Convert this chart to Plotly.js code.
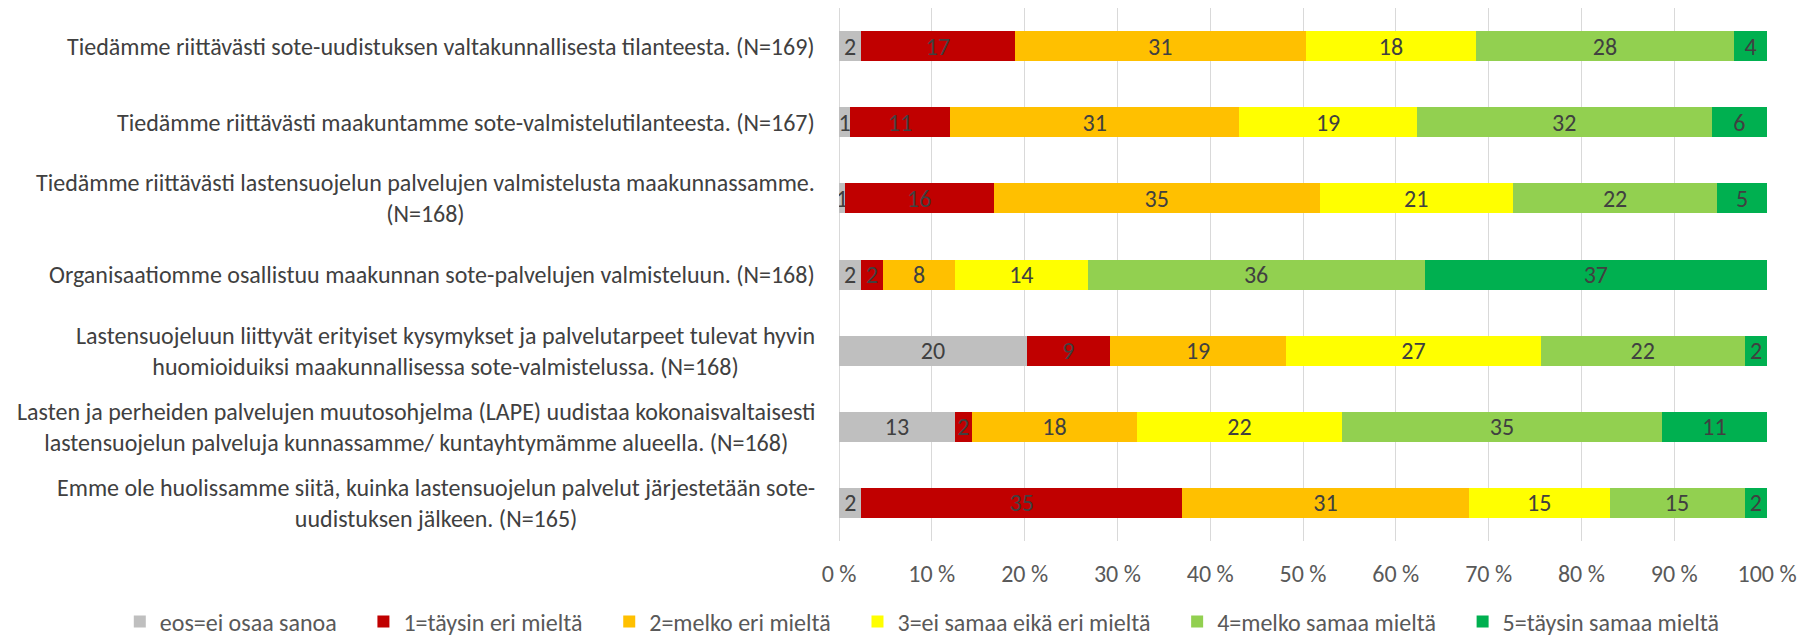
<!DOCTYPE html>
<html>
<head>
<meta charset="utf-8">
<script src="https://cdn.plot.ly/plotly-3.0.1.min.js"></script>
<style>html,body{margin:0;padding:0;background:#fff;}#chart{width:1810px;height:637px;}</style>
</head>
<body>
<div id="chart"></div>
<script>
// Categories (top to bottom)
var categories = [
  "Tiedämme riittävästi sote-uudistuksen valtakunnallisesta tilanteesta. (N=169)",
  "Tiedämme riittävästi maakuntamme sote-valmistelutilanteesta. (N=167)",
  "Tiedämme riittävästi lastensuojelun palvelujen valmistelusta maakunnassamme.<br>(N=168)",
  "Organisaatiomme osallistuu maakunnan sote-palvelujen valmisteluun. (N=168)",
  "Lastensuojeluun liittyvät erityiset kysymykset ja palvelutarpeet tulevat hyvin<br>huomioiduiksi maakunnallisessa sote-valmistelussa. (N=168)",
  "Lasten ja perheiden palvelujen muutosohjelma (LAPE) uudistaa kokonaisvaltaisesti<br>lastensuojelun palveluja kunnassamme/ kuntayhtymämme alueella. (N=168)",
  "Emme ole huolissamme siitä, kuinka lastensuojelun palvelut järjestetään sote-<br>uudistuksen jälkeen. (N=165)"
];
var seriesNames = ["eos=ei osaa sanoa", "1=täysin eri mieltä", "2=melko eri mieltä",
                   "3=ei samaa eikä eri mieltä", "4=melko samaa mieltä", "5=täysin samaa mieltä"];
// Percent of respondents
var eos = [2.37, 1.20, 0.60, 2.38, 20.24, 12.50, 2.42];
var s1  = [16.57, 10.78, 16.07, 2.38, 8.93, 1.79, 34.55];
var s2  = [31.36, 31.14, 35.12, 7.74, 19.05, 17.86, 30.91];
var s3  = [18.34, 19.16, 20.83, 14.29, 27.38, 22.02, 15.15];
var s4  = [27.81, 31.74, 22.02, 36.31, 22.02, 34.52, 14.55];
var s5  = [3.55, 5.99, 5.36, 36.90, 2.38, 11.31, 2.42];
var tickVals = [0, 10, 20, 30, 40, 50, 60, 70, 80, 90, 100];
var tickText = ["0 %", "10 %", "20 %", "30 %", "40 %", "50 %", "60 %", "70 %", "80 %", "90 %", "100 %"];

var colors = ["#BFBFBF", "#C00000", "#FFC000", "#FFFF00", "#92D050", "#00B050"];
var FONT = "Carlito, Calibri, Lato, sans-serif";
var PAD = "\u00a0\u00a0\u00a0\u00a0";
var allSeries = [eos, s1, s2, s3, s4, s5];

var traces = allSeries.map(function(vals, i){
  return {
    type: "bar",
    orientation: "h",
    name: seriesNames[i] + PAD,
    x: vals,
    y: categories,
    marker: {color: colors[i], line: {width: 0}},
    texttemplate: "%{x:.0f}",
    textposition: "inside",
    insidetextanchor: "middle",
    textangle: 0,
    constraintext: "none",
    textfont: {family: FONT, size: 24, color: "#404040"},
    hoverinfo: "name+x"
  };
});

var annotations = categories.map(function(c){
  return {
    xref: "paper", yref: "y", x: 0, y: c,
    xanchor: "right", yanchor: "middle", xshift: -22,
    text: c, showarrow: false, align: "center",
    font: {family: FONT, size: 24, color: "#404040"}
  };
});

var layout = {
  width: 1810, height: 637,
  margin: {l: 839, r: 43, t: 8, b: 96, pad: 0, autoexpand: false},
  barmode: "stack",
  bargap: 0.606,
  paper_bgcolor: "#ffffff",
  plot_bgcolor: "#ffffff",
  showlegend: true,
  legend: {
    orientation: "h", xref: "paper", yref: "paper",
    x: -0.775, xanchor: "left", y: -0.152, yanchor: "middle",
    traceorder: "normal", itemwidth: 30,
    font: {family: FONT, size: 24, color: "#595959"}
  },
  xaxis: {
    range: [0, 100], tickmode: "array", tickvals: tickVals, ticktext: tickText,
    showgrid: true, gridcolor: "#D9D9D9", gridwidth: 1,
    zeroline: true, zerolinecolor: "#D9D9D9", zerolinewidth: 1,
    showline: false, ticks: "", ticklabelstandoff: 16,
    tickfont: {family: FONT, size: 24, color: "#595959"},
    fixedrange: true
  },
  yaxis: {
    type: "category", autorange: "reversed",
    showticklabels: false, showgrid: false, zeroline: false, ticks: "",
    fixedrange: true
  },
  annotations: annotations
};

Plotly.newPlot("chart", traces, layout, {displayModeBar: false, staticPlot: true});
</script>
</body>
</html>
